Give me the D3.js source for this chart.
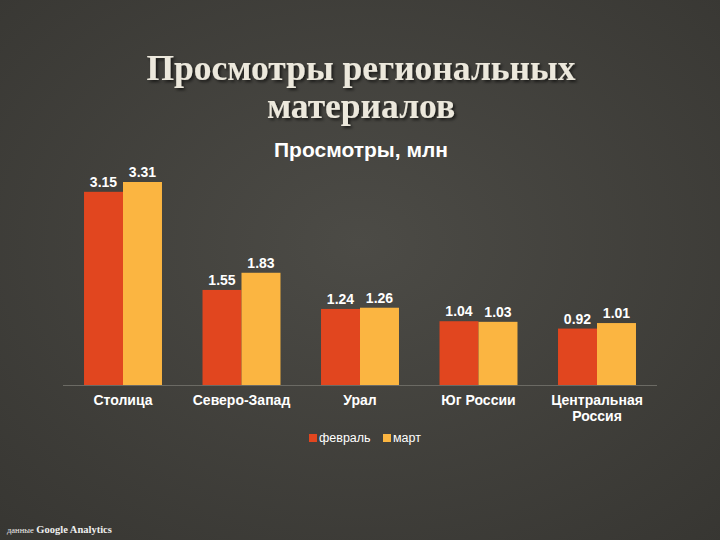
<!DOCTYPE html>
<html><head><meta charset="utf-8">
<script src="https://cdn.jsdelivr.net/npm/d3@7/dist/d3.min.js"></script>
<style>html,body{margin:0;padding:0;background:#45443f;}</style>
</head><body>
<script>
const categories = ["Столица", "Северо-Запад", "Урал", "Юг России", "Центральная Россия"];
const seriesNames = ["февраль", "март"];
const february = [3.15, 1.55, 1.24, 1.04, 0.92];
const march = [3.31, 1.83, 1.26, 1.03, 1.01];
const colors = ["#e1461f", "#fbb541"];

const W = 720, H = 540;
const svg = d3.select("body").append("svg").attr("width", W).attr("height", H);
const defs = svg.append("defs");
const rg = defs.append("radialGradient").attr("id", "bg").attr("cx", "50%").attr("cy", "45%").attr("r", "75%");
rg.append("stop").attr("offset", "0%").attr("stop-color", "#4c4b46");
rg.append("stop").attr("offset", "100%").attr("stop-color", "#373632");
svg.append("rect").attr("width", W).attr("height", H).attr("fill", "url(#bg)");

const f = defs.append("filter").attr("id", "sh").attr("x", "-10%").attr("y", "-10%").attr("width", "120%").attr("height", "140%");
f.append("feDropShadow").attr("dx", 2).attr("dy", 2).attr("stdDeviation", 1.5).attr("flood-color", "#000").attr("flood-opacity", 0.6);

// Title
const title = svg.append("text").attr("text-anchor", "middle").attr("fill", "#ece8dc")
  .attr("font-family", "'Liberation Serif', 'DejaVu Serif', serif").attr("font-weight", "bold")
  .attr("font-size", 35.5).attr("filter", "url(#sh)");
title.append("tspan").attr("x", 361).attr("y", 80).text("Просмотры региональных");
title.append("tspan").attr("x", 361).attr("y", 118).text("материалов");

svg.append("text").attr("x", 361).attr("y", 157).attr("text-anchor", "middle")
  .attr("fill", "#ffffff").attr("font-family", "'Liberation Sans', Arial, sans-serif")
  .attr("font-weight", "bold").attr("font-size", 21).text("Просмотры, млн");

const baseY = 385;
const y = d3.scaleLinear().domain([0, 3.31]).range([baseY, 182]);
const x0 = d3.scaleBand().domain(categories).range([63.75, 656.25]).paddingInner(0.342).paddingOuter(0.171);
const x1 = d3.scaleBand().domain(seriesNames).range([0, x0.bandwidth()]);

const data = categories.map((c, i) => ({ cat: c, vals: [february[i], march[i]] }));

const g = svg.append("g");
// axis line
g.append("line").attr("x1", 63).attr("x2", 657).attr("y1", baseY + 0.5).attr("y2", baseY + 0.5)
  .attr("stroke", "#6b6a64").attr("stroke-width", 1);

const groups = g.selectAll("g.cat").data(data).join("g").attr("class", "cat")
  .attr("transform", d => `translate(${x0(d.cat)},0)`);
groups.selectAll("rect").data(d => d.vals.map((v, j) => ({ v, s: seriesNames[j], j }))).join("rect")
  .attr("x", d => x1(d.s)).attr("width", x1.bandwidth())
  .attr("y", d => y(d.v)).attr("height", d => baseY - y(d.v))
  .attr("fill", d => colors[d.j]);
groups.selectAll("text.val").data(d => d.vals.map((v, j) => ({ v, s: seriesNames[j], j }))).join("text")
  .attr("class", "val")
  .attr("x", d => x1(d.s) + x1.bandwidth() / 2).attr("y", d => y(d.v) - 5)
  .attr("text-anchor", "middle").attr("fill", "#ffffff")
  .attr("font-family", "'Liberation Sans', Arial, sans-serif").attr("font-weight", "bold").attr("font-size", 14)
  .text(d => d.v.toFixed(2));

// category labels
const labelLines = { "Центральная Россия": ["Центральная", "Россия"] };
groups.each(function (d) {
  const lines = labelLines[d.cat] || [d.cat];
  const t = d3.select(this).append("text").attr("text-anchor", "middle").attr("fill", "#ffffff")
    .attr("font-family", "'Liberation Sans', Arial, sans-serif").attr("font-weight", "bold").attr("font-size", 14);
  lines.forEach((l, k) => t.append("tspan").attr("x", x0.bandwidth() / 2).attr("y", 405 + k * 16).text(l));
});

// legend
const leg = svg.append("g");
const legX = [309, 383];
seriesNames.forEach((s, j) => {
  leg.append("rect").attr("x", legX[j]).attr("y", 434).attr("width", 8).attr("height", 8).attr("fill", colors[j]);
  leg.append("text").attr("x", legX[j] + 10).attr("y", 442).attr("fill", "#ffffff")
    .attr("font-family", "'Liberation Sans', Arial, sans-serif").attr("font-size", 12.5).text(s);
});

// source
svg.append("text").attr("x", 7).attr("y", 533).attr("fill", "#eeeeee")
  .attr("font-family", "'Liberation Serif', serif").attr("font-size", 10.5)
  .html('<tspan font-size="8.5">данные</tspan> <tspan font-weight="bold">Google Analytics</tspan>');
</script>
</body></html>
